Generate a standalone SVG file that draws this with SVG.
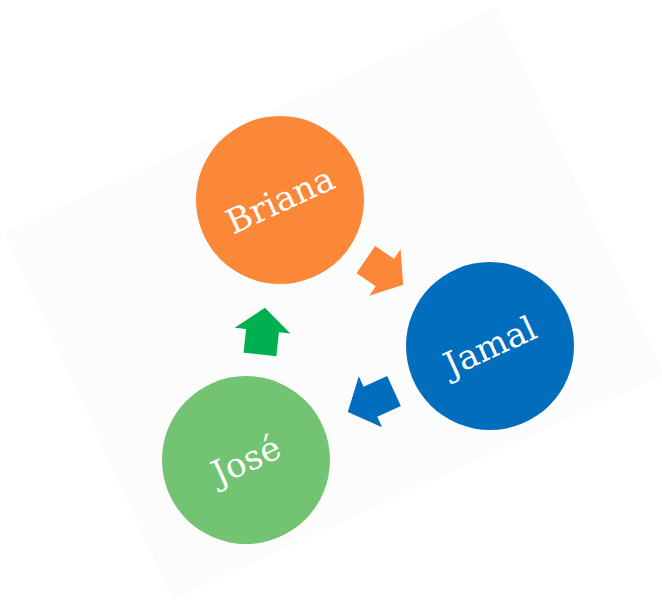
<svg xmlns="http://www.w3.org/2000/svg" width="662" height="600" viewBox="0 0 662 600">
  <style>
    .label { font-family: "DejaVu Serif", "Liberation Serif", serif; font-size: 34px; fill: #ffffff; text-anchor: middle; }
  </style>
  <defs>
    <polygon id="arrowShape" points="0,-16.5 24,-16.5 24,-28 47,0 24,28 24,16.5 0,16.5"/>
  </defs>
  <rect width="662" height="600" fill="#ffffff"/>
  <rect x="64" y="101.5" width="541" height="404" fill="#fcfcfc" transform="rotate(-24.6 334.5 303.5)"/>

  <g id="connectors">
    <use href="#arrowShape" fill="#fb8738" transform="translate(365.8 259.6) rotate(34) scale(0.96 1)"/>
    <use href="#arrowShape" fill="#006ebd" transform="translate(394 391) rotate(155.5) scale(1.08 1)"/>
    <use href="#arrowShape" fill="#00af4f" transform="translate(260 354.5) rotate(-84) scale(1 1)"/>
  </g>

  <g id="briana">
    <circle cx="280" cy="200" r="84" fill="#fb8738"/>
    <text class="label" x="280" y="212" transform="rotate(-24.6 280 200)">Briana</text>
  </g>
  <g id="jamal">
    <circle cx="490" cy="346" r="84" fill="#006ebd"/>
    <text class="label" x="490" y="358" transform="rotate(-24.6 490 346)">Jamal</text>
  </g>
  <g id="jose">
    <circle cx="246" cy="460" r="84" fill="#72c472"/>
    <text class="label" x="246" y="472" transform="rotate(-24.6 246 460)">José</text>
  </g>
</svg>
